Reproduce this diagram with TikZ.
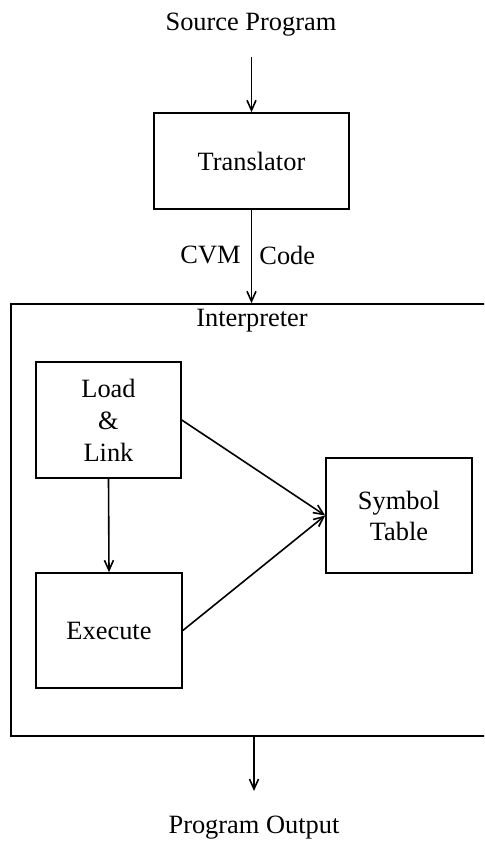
\documentclass[tikz,border=0pt]{standalone}
\usepackage{fontspec}
\setmainfont{Liberation Serif}
\usetikzlibrary{arrows.meta}
\begin{document}
\begin{tikzpicture}[x=0.5pt,y=-0.5pt,
  every node/.style={font=\fontsize{13.2}{16}\selectfont},
  boxnode/.style={draw,line width=0.8pt,align=center,inner sep=0pt},
  arr/.style={line width=0.8pt,-{Straight Barb[length=5pt,width=4.5pt,line width=0.8pt]}},
  plain/.style={inner sep=0pt}]
\useasboundingbox (0,0) rectangle (484,842);
\clip (0,0) rectangle (484,842);
\node[plain] (src) at (251,25) {Source Program};
\node[boxnode,minimum width=97.5pt,minimum height=48pt] (trans) at (251.5,161) {Translator};
\node[boxnode,minimum width=244.5pt,minimum height=216pt] (interp) at (255.5,520) {};
\node[plain] (interplabel) at (252,321) {Interpreter};
\node[boxnode,minimum width=72.5pt,minimum height=58pt] (load) at (108.5,420) {Load\\\&\\Link};
\node[boxnode,minimum width=73pt,minimum height=57.5pt] (exec) at (109,630.5) {Execute};
\node[boxnode,minimum width=73pt,minimum height=57.5pt,font=\fontsize{13.2}{15.5}\selectfont] (sym) at (399,515.5) {Symbol\\Table};
\node[plain] (out) at (254,828) {Program Output};
\node[plain,anchor=east] (cvm) at (241,255) {CVM};
\node[plain,anchor=west] (code) at (259,255) {Code};
% connectors
\draw[arr,shorten <=10pt] (src.south -| trans.north) -- (trans.north);
\draw[arr] (trans.south) -- (trans.south |- interp.north);
\draw[arr] (load.south) -- (exec.north);
\draw[arr] (load.east) -- (sym.west);
\draw[arr] (exec.east) -- (sym.west);
\draw[arr,shorten >=12.5pt] (interp.south -| out.north) -- (out.north);
\end{tikzpicture}
\end{document}
